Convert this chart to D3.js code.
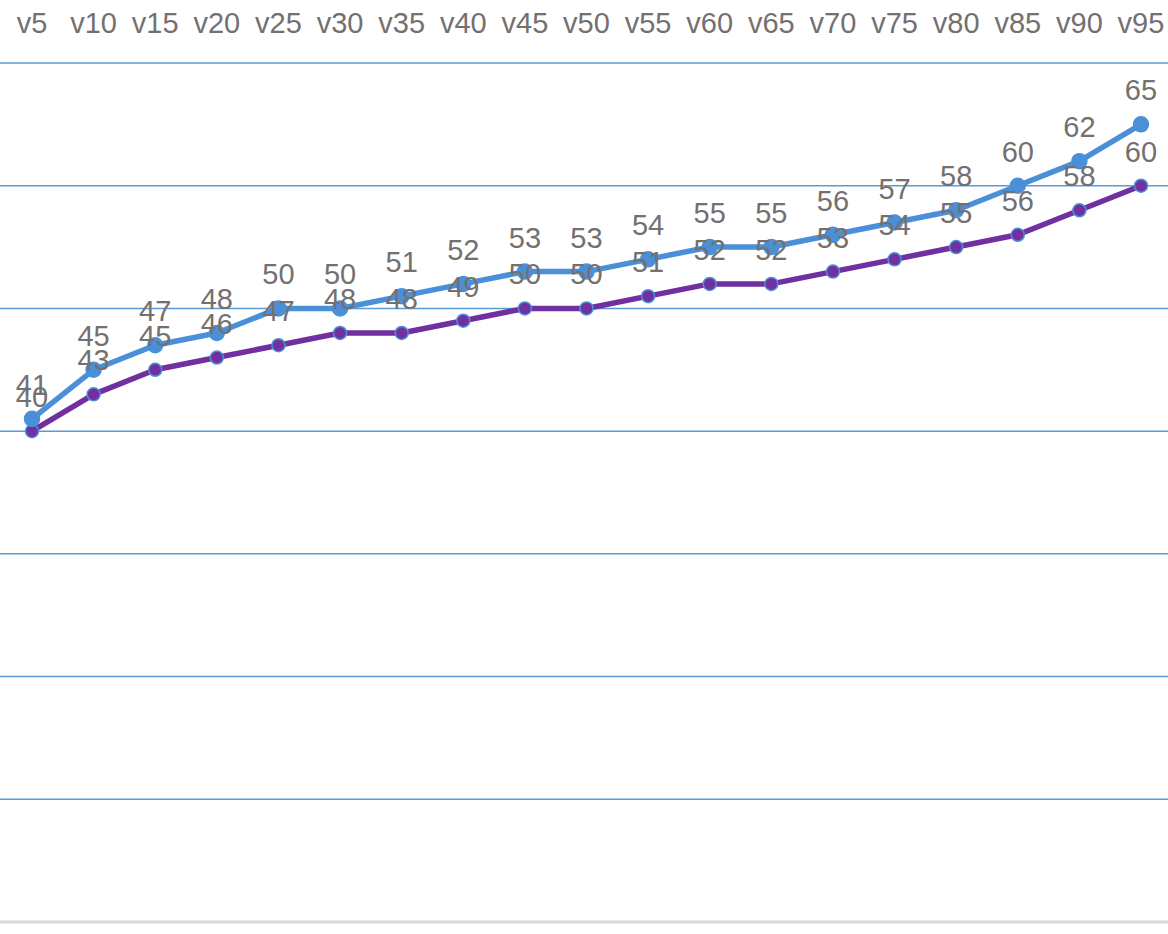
<!DOCTYPE html>
<html>
<head>
<meta charset="utf-8">
<script src="https://cdn.jsdelivr.net/npm/d3@7"></script>
<style>
  body { margin: 0; background: #fff; }
  svg { display: block; }
  text { font-family: "Liberation Sans", Arial, sans-serif; fill: #747070; }
</style>
</head>
<body>
<svg id="chart" width="1168" height="934"></svg>
<script>
// categories along the top
var categories = ["v5","v10","v15","v20","v25","v30","v35","v40","v45","v50",
                  "v55","v60","v65","v70","v75","v80","v85","v90","v95"];
// upper (blue) series
var seriesA = [41,45,47,48,50,50,51,52,53,53,54,55,55,56,57,58,60,62,65];
// lower (purple) series
var seriesB = [40,43,45,46,47,48,48,49,50,50,51,52,52,53,54,55,56,58,60];
var yTicks = [10,20,30,40,50,60,70];

var width = 1168, height = 934;
var svg = d3.select("#chart");

var x = d3.scalePoint().domain(categories).range([32, 1141]);
var y = d3.scaleLinear().domain([0, 70]).range([922, 63]);

// gridlines
svg.append("g").selectAll("line")
  .data(yTicks)
  .enter()
  .append("line")
  .attr("x1", 0).attr("x2", width)
  .attr("y1", function(d) { return y(d); })
  .attr("y2", function(d) { return y(d); })
  .attr("stroke", "#5b9bd5")
  .attr("stroke-width", 1.5);

// baseline
svg.append("line")
  .attr("x1", 0).attr("x2", width)
  .attr("y1", y(0)).attr("y2", y(0))
  .attr("stroke", "#d9d9d9")
  .attr("stroke-width", 3);

// category labels at the top
svg.append("g").selectAll("text")
  .data(categories)
  .enter()
  .append("text")
  .attr("x", function(d) { return x(d); })
  .attr("y", 33)
  .attr("text-anchor", "middle")
  .attr("font-size", 29)
  .text(function(d) { return d; });

var line = d3.line()
  .x(function(d, i) { return x(categories[i]); })
  .y(function(d) { return y(d); });

function drawSeries(vals, color, r, stroke) {
  var g = svg.append("g");
  g.append("path")
    .datum(vals)
    .attr("d", line)
    .attr("fill", "none")
    .attr("stroke", color)
    .attr("stroke-width", 5.5)
    .attr("stroke-linejoin", "round");
  g.selectAll("circle")
    .data(vals)
    .enter()
    .append("circle")
    .attr("cx", function(d, i) { return x(categories[i]); })
    .attr("cy", function(d) { return y(d); })
    .attr("r", r)
    .attr("fill", color)
    .attr("stroke", stroke)
    .attr("stroke-width", 1.5);
  return g;
}

drawSeries(seriesB, "#7030a0", 6.5, "#4a90d9");
drawSeries(seriesA, "#4a90d9", 7.5, "#4a90d9");

function drawLabels(vals) {
  svg.append("g").selectAll("text")
    .data(vals)
    .enter()
    .append("text")
    .attr("x", function(d, i) { return x(categories[i]); })
    .attr("y", function(d) { return y(d) - 24; })
    .attr("text-anchor", "middle")
    .attr("font-size", 29)
    .text(function(d) { return d; });
}
drawLabels(seriesB);
drawLabels(seriesA);
</script>
</body>
</html>
